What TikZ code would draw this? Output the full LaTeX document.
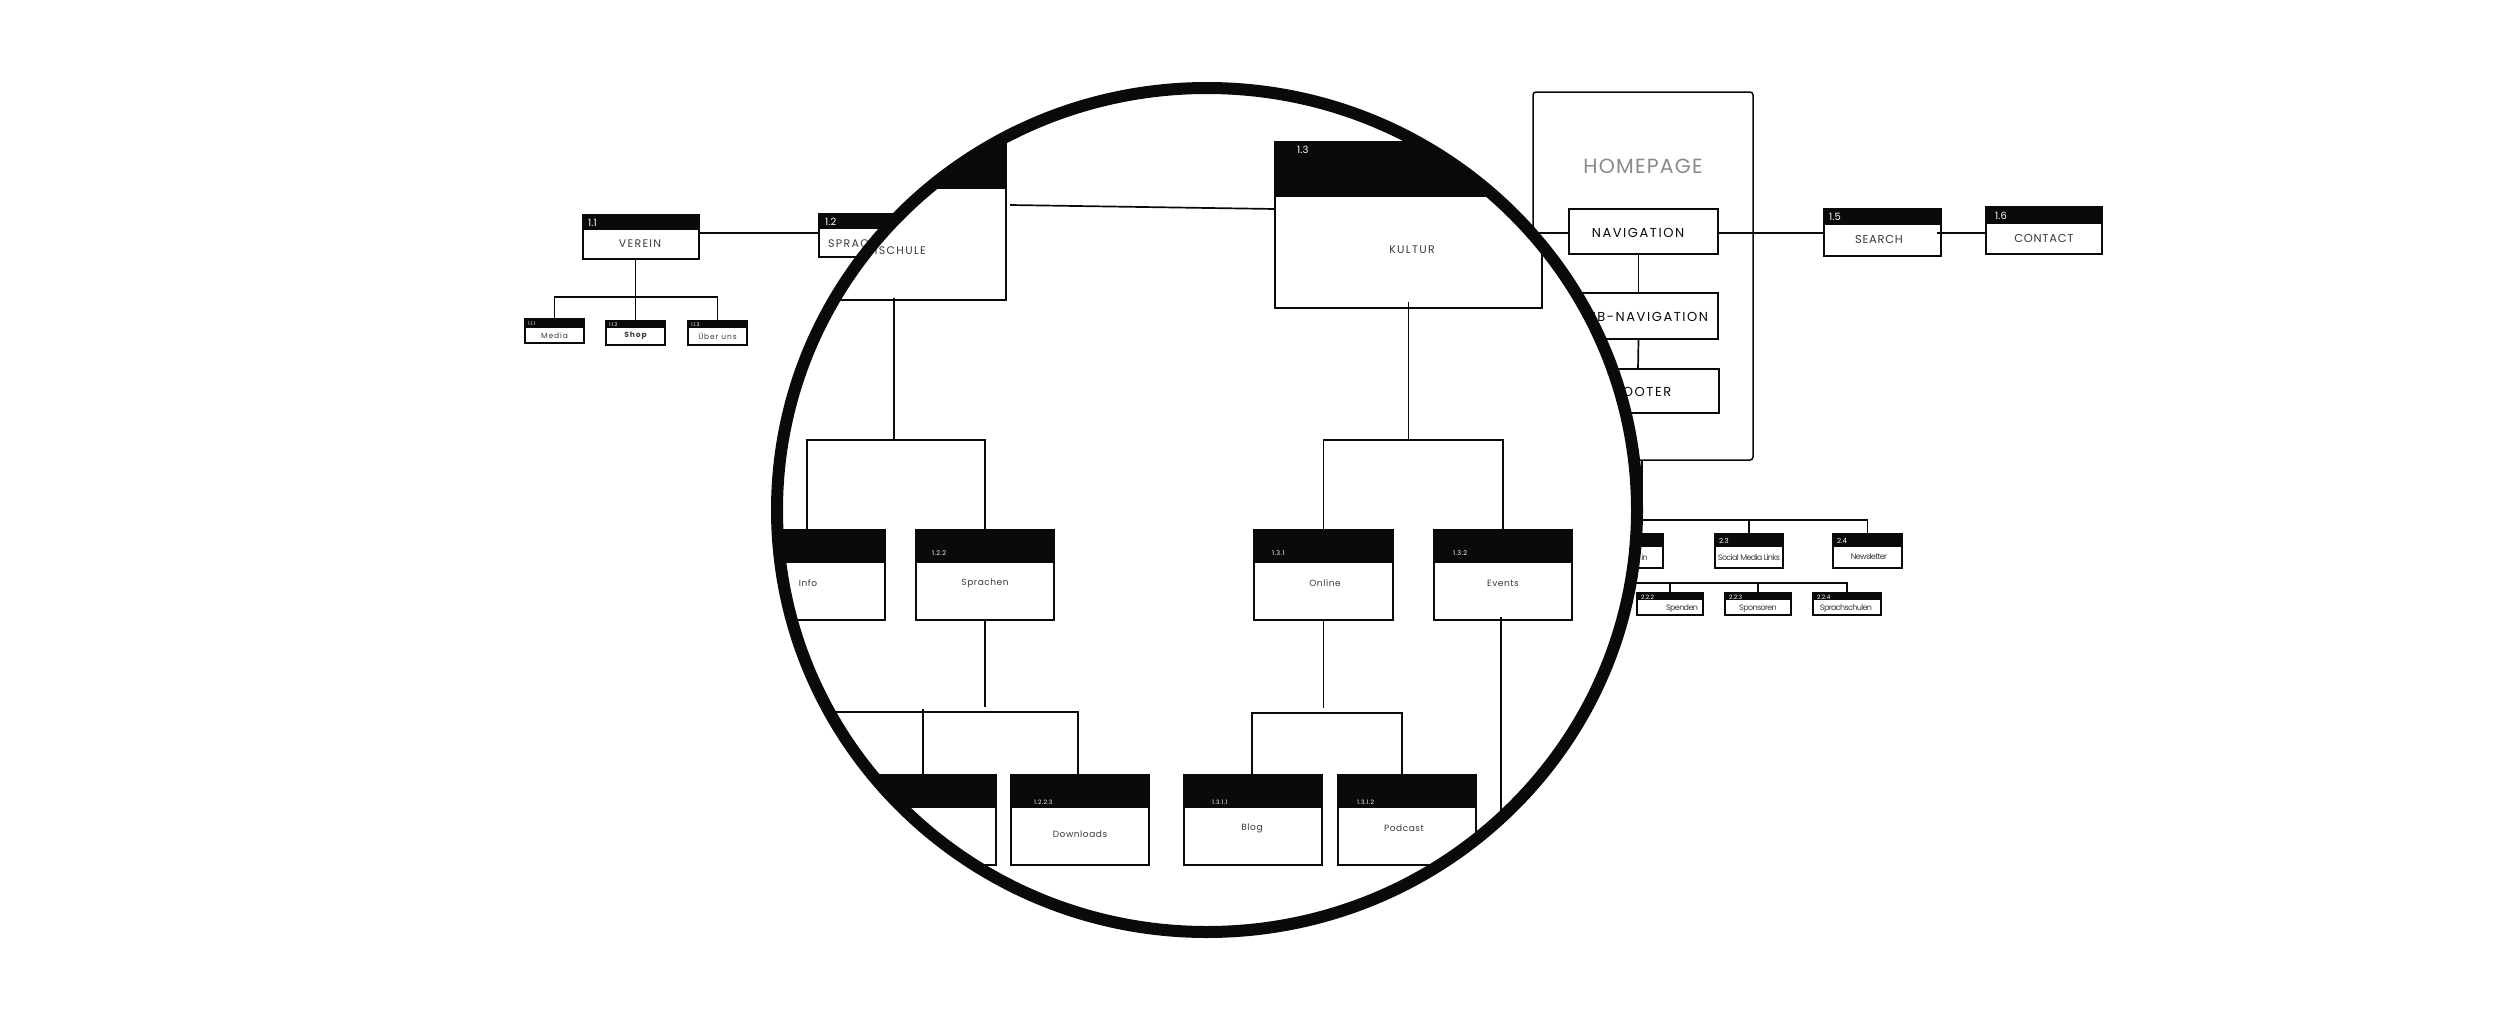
\documentclass[tikz,border=0pt]{standalone}
\usepackage{fontspec}
\setmainfont{Poppins}
\newfontfamily\spacedfont{Poppins}[LetterSpace=12]
\newfontfamily\midfont{Poppins}[LetterSpace=6]
\newfontfamily\tightfont{Poppins}[LetterSpace=-8]
\usetikzlibrary{calc}
\definecolor{ink}{HTML}{0A0A0A}
\definecolor{txt}{HTML}{3A3A3A}
\definecolor{homegray}{HTML}{8A8A8A}
\newcommand{\fsz}[1]{\fontsize{#1}{#1}\selectfont}
% name, x1, y1, x2, y2, header bottom
\newcommand{\mkbox}[6]{%
  \fill[ink] (#2,#3) rectangle (#4,#6);
  \node[bx, minimum width={(#4-#2)*1pt}, minimum height={(#5-#3)*1pt}] (#1) at ({(#2+#4)/2},{(#3+#5)/2}) {};
}
\tikzset{
  bx/.style={draw=ink, line width=1.7, inner sep=0, outer sep=0},
  conn/.style={draw=ink, line width=1.7},
  idt/.style={anchor=west, text=white, inner sep=0},
  lbl/.style={text=txt, inner sep=0},
}
\begin{document}
\begin{tikzpicture}[x=1pt,y=-1pt]
\useasboundingbox (0,0) rectangle (2500,1012);
\fill[white] (0,0) rectangle (2500,1012);

% ---------- small site map ----------
\coordinate (y233) at (0,233);
\coordinate (y297) at (0,297);
\mkbox{verein}{583}{215}{699}{259}{230}
\node[idt, font=\fsz{10}] at (588,223) {1.1};
\node[lbl, font=\spacedfont\fsz{11}] at (640,244) {VEREIN};

\mkbox{sprach}{819}{214}{934}{257}{229}
\node[idt, font=\fsz{10}] at (825,222) {1.2};
\node[lbl, font=\spacedfont\fsz{11}, anchor=west] at (828,244) {SPRACHSCHULE};

\draw[conn] (verein.east |- y233) -- (sprach.west |- y233);

\mkbox{media}{525}{319}{584}{343}{328}
\node[idt, font=\fsz{5}] at (528,323.5) {1.1.1};
\node[lbl, font=\spacedfont\fsz{7.5}] at (554.5,335.5) {Media};
\mkbox{shop}{606}{321}{665}{345}{328}
\node[idt, font=\fsz{5}] at (609,324.5) {1.1.2};
\node[lbl, font=\spacedfont\bfseries\fsz{7.5}] at (635.5,336) {Shop};
\mkbox{uber}{688}{321}{747}{345}{328}
\node[idt, font=\fsz{5}] at (691,324.5) {1.1.3};
\node[lbl, font=\spacedfont\fsz{7.5}] at (717.5,336.5) {Über uns};

\draw[conn] (verein.south -| shop.north) -- (shop.north);
\draw[conn] (media.north) |- (uber.north |- y297) -- (uber.north);

% homepage block
\node[draw=ink, line width=1.5, rounded corners=3, minimum width=220, minimum height=368, inner sep=0] (home) at (1643,276) {};
\node[text=homegray, inner sep=0, font=\midfont\fsz{20.5}] (hometitle) at (1643,166) {HOMEPAGE};
\node[bx, minimum width=149, minimum height=45] (nav) at (1643.5,231.5) {};
\node[text=ink, inner sep=0, font=\spacedfont\fsz{13}] at (1638,233) {NAVIGATION};
\node[bx, minimum width=149, minimum height=46] (subnav) at (1643.5,316) {};
\node[text=ink, inner sep=0, font=\spacedfont\fsz{13}] at (1643,317) {SUB-NAVIGATION};
\node[bx, minimum width=150, minimum height=44] (footer) at (1644,391) {};
\node[text=ink, inner sep=0, font=\spacedfont\fsz{13}] at (1643,392) {FOOTER};
\draw[conn] ($(nav.south)+(-5,0)$) -- ($(subnav.north)+(-5,0)$);
\draw[conn] ($(subnav.south)+(-5,0)$) -- ($(footer.north)+(-6,0)$);
\draw[conn] (nav.west |- y233) -- ++(-60,0);

\mkbox{search}{1824}{209}{1941}{256}{225}
\node[idt, font=\fsz{10}] at (1829,217) {1.5};
\node[lbl, font=\midfont\fsz{11.5}] at (1879,239) {SEARCH};
\mkbox{contact}{1986}{207}{2102}{254}{224}
\node[idt, font=\fsz{10}] at (1995,216) {1.6};
\node[lbl, font=\midfont\fsz{11.5}] at (2044,238) {CONTACT};
\draw[conn] (nav.east |- y233) -- (search.west |- y233);
\draw[conn] ($(search.east |- y233)+(-4,0)$) -- (contact.west |- y233);

% second level under homepage
\coordinate (y520) at (0,520);
\coordinate (y583) at (0,583);
\mkbox{b22}{1595}{534}{1663}{568}{547}
\node[lbl, font=\tightfont\fsz{8}, anchor=east] at (1648,557) {in};
\mkbox{b23}{1715}{534}{1783}{568}{547}
\node[idt, font=\fsz{7}] at (1719,541) {2.3};
\node[lbl, font=\tightfont\fsz{8}] at (1749,557) {Social Media Links};
\mkbox{b24}{1833}{534}{1902}{568}{547}
\node[idt, font=\fsz{7}] at (1837,541) {2.4};
\node[lbl, font=\tightfont\fsz{8}] at (1869,557) {Newsletter};
\draw[conn] (home.south -| 1642,0) -- (1642,520);
\draw[conn] (b22.north) |- (b24.north |- y520) -- (b24.north);
\draw[conn] (b23.north) -- (b23.north |- y520);

\mkbox{b222}{1637}{593}{1703}{615}{600}
\node[idt, font=\fsz{6}] at (1641,597) {2.2.2};
\node[lbl, font=\tightfont\fsz{8}] at (1682,608.5) {Spenden};
\mkbox{b223}{1725}{593}{1791}{615}{600}
\node[idt, font=\fsz{6}] at (1729,597) {2.2.3};
\node[lbl, font=\tightfont\fsz{8}] at (1758,608.5) {Sponsoren};
\mkbox{b224}{1813}{593}{1881}{615}{600}
\node[idt, font=\fsz{6}] at (1817,597) {2.2.4};
\node[lbl, font=\tightfont\fsz{8}] at (1846,608.5) {Sprachschulen};
\draw[conn] (b22.south) |- (b224.north |- y583) -- (b224.north);
\draw[conn] (b222.north) -- (b222.north |- y583);
\draw[conn] (b223.north) -- (b223.north |- y583);

% ---------- magnifier ----------
\fill[white] (1207,510) ellipse [x radius=430, y radius=422];
\begin{scope}
\clip (1207,510) ellipse [x radius=430, y radius=422];
\coordinate (y440) at (0,440);
\mkbox{m12}{739}{142}{1006}{300}{189}
\node[lbl, font=\spacedfont\fsz{11}, anchor=east] at (926,251) {SPRACHSCHULE};
\mkbox{m13}{1275}{142}{1542}{308}{197}
\node[idt, font=\fsz{10}] at (1297,150) {1.3};
\node[lbl, font=\spacedfont\fsz{11}] at (1412,250) {KULTUR};
\draw[conn] ($(m12.north east)+(4,63)$) -- ($(m13.north west)+(0,67)$);

\mkbox{mi121}{747}{530}{885}{620}{563}
\node[idt, font=\midfont\fsz{6.5}] at (765,553) {1.2.1};
\node[lbl, font=\midfont\fsz{9}] at (808,583) {Info};
\mkbox{mi122}{916}{530}{1054}{620}{563}
\node[idt, font=\midfont\fsz{6.5}] at (932,553) {1.2.2};
\node[lbl, font=\midfont\fsz{9}] at (985,583) {Sprachen};
\mkbox{mi131}{1254}{530}{1393}{620}{563}
\node[idt, font=\midfont\fsz{6.5}] at (1272,553) {1.3.1};
\node[lbl, font=\midfont\fsz{9}] at (1325,583) {Online};
\mkbox{mi132}{1434}{530}{1572}{620}{563}
\node[idt, font=\midfont\fsz{6.5}] at (1453,553) {1.3.2};
\node[lbl, font=\midfont\fsz{9}] at (1503,583) {Events};

\draw[conn] ($(m12.south west)+(155,-2)$) -- ($(m12.south west)+(155,140)$);
\draw[conn] ($(mi121.north west)+(60,0)$) |- (mi122.north |- y440) -- (mi122.north);
\draw[conn] ($(m13.south)+(0,-6)$) -- (m13.south |- y440);
\draw[conn] (mi131.north) |- (mi132.north |- y440) -- (mi132.north);

\coordinate (y712) at (0,712);
\coordinate (y713) at (0,713);
\coordinate (barleft) at (760,712);
\mkbox{m1222}{858}{775}{996}{865}{808}
\node[idt, font=\midfont\fsz{6}] at (881,802) {1.2.2.2};
\mkbox{m1223}{1011}{775}{1149}{865}{808}
\node[idt, font=\midfont\fsz{6}] at (1034,802) {1.2.2.3};
\node[lbl, font=\midfont\fsz{9}] at (1080,834) {Downloads};
\mkbox{m1311}{1184}{775}{1322}{865}{808}
\node[idt, font=\midfont\fsz{6}] at (1212,802) {1.3.1.1};
\node[lbl, font=\midfont\fsz{9}] at (1252,828) {Blog};
\mkbox{m1312}{1338}{775}{1476}{865}{808}
\node[idt, font=\midfont\fsz{6}] at (1357,802) {1.3.1.2};
\node[lbl, font=\midfont\fsz{9}] at (1404,828) {Podcast};

\draw[conn] (mi122.south) -- ($(mi122.south |- y712)+(0,-5)$);
\draw[conn] ($(m1223.north)+(-2,0)$) |- (barleft);
\draw[conn] ($(m1222.north)+(-4,0)$) -- ($(m1222.north |- y712)+(-4,-3)$);
\draw[conn] (mi131.south) -- ($(mi131.south |- y713)+(0,-5)$);
\draw[conn] ($(m1311.north)+(-1,0)$) |- ($(m1312.north |- y713)+(-5,0)$) -- ($(m1312.north)+(-5,0)$);
\draw[conn] ($(mi132.south)+(-2,-3)$) -- ++(0,340);
\end{scope}
\draw[ink, line width=12] (1207,510) ellipse [x radius=430, y radius=422];
\end{tikzpicture}
\end{document}
